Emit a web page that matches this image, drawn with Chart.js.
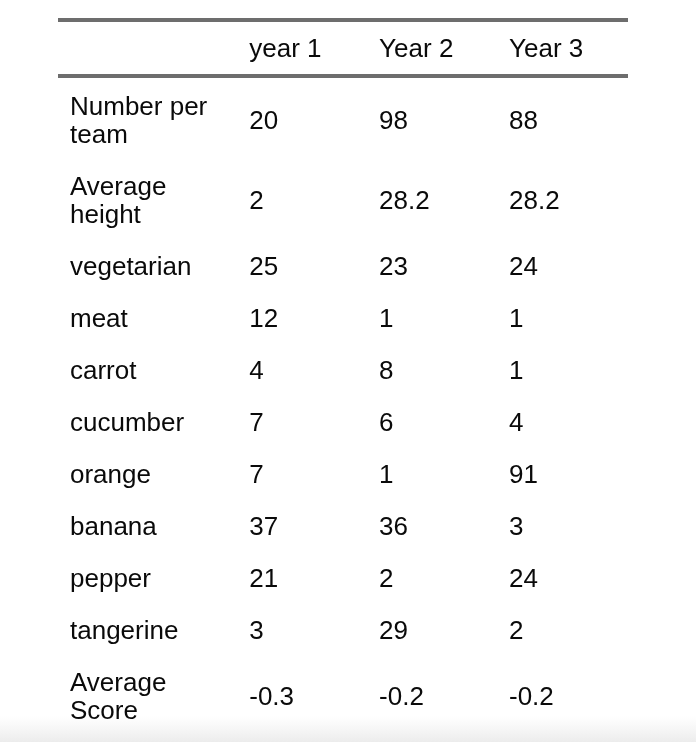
<!DOCTYPE html>
<html>
<head>
<meta charset="utf-8">
<script src="https://cdn.jsdelivr.net/npm/chart.js@4.4.1/dist/chart.umd.min.js"></script>
<style>
  html, body { margin: 0; padding: 0; background: #ffffff; }
  #wrap { width: 696px; height: 742px; position: relative; }
</style>
</head>
<body>
<div id="wrap"><canvas id="c" width="696" height="742"></canvas></div>
<script>
// ---- data ----
const columns = ['year 1', 'Year 2', 'Year 3'];
const rowLabels = [
  ['Number per', 'team'],
  ['Average', 'height'],
  'vegetarian',
  'meat',
  'carrot',
  'cucumber',
  'orange',
  'banana',
  'pepper',
  'tangerine',
  ['Average', 'Score']
];
const year1 = [20, 2, 25, 12, 4, 7, 7, 37, 21, 3, -0.3];
const year2 = [98, 28.2, 23, 1, 8, 6, 1, 36, 2, 29, -0.2];
const year3 = [88, 28.2, 24, 1, 1, 4, 91, 3, 24, 2, -0.2];

// ---- layout helpers (row height grows with number of text lines) ----
const EXTRA_LINE = 28 / 52;
const rowSize = rowLabels.map(l => 1 + (Array.isArray(l) ? l.length - 1 : 0) * EXTRA_LINE);
const rowCenter = [];
let acc = 0;
rowSize.forEach(s => { rowCenter.push(acc + s / 2); acc += s; });
const totalRows = acc;

const series = [year1, year2, year3];
const LABEL_X = -0.38;

const FONT = '26px "Liberation Sans", Arial, Helvetica, sans-serif';
const TEXT = '#0a0a0a';
const RULE = '#6d6d6d';
const LINE_H = 28;

function drawLines(ctx, text, x, y) {
  const lines = Array.isArray(text) ? text : [text];
  const n = lines.length;
  lines.forEach((t, i) => {
    ctx.fillText(t, x, y + (i - (n - 1) / 2) * LINE_H);
  });
}

const tablePlugin = {
  id: 'tablePlugin',
  beforeDraw(chart) {
    const ctx = chart.ctx;
    ctx.save();
    ctx.fillStyle = '#ffffff';
    ctx.fillRect(0, 0, chart.width, chart.height);
    // faint bottom shading
    const g = ctx.createLinearGradient(0, chart.height - 26, 0, chart.height);
    g.addColorStop(0, 'rgba(238,238,238,0)');
    g.addColorStop(1, 'rgba(236,236,236,1)');
    ctx.fillStyle = g;
    ctx.fillRect(0, chart.height - 26, chart.width, 26);
    ctx.restore();
  },
  afterDatasetsDraw(chart) {
    const ctx = chart.ctx;
    const xs = chart.scales.x, ys = chart.scales.y;
    const area = chart.chartArea;
    ctx.save();
    // rules
    const ruleL = xs.getPixelForValue(LABEL_X) - 12;
    const ruleR = xs.getPixelForValue(columns.length) + 119;
    ctx.fillStyle = RULE;
    ctx.fillRect(ruleL, area.top - 64, ruleR - ruleL, 4);
    ctx.fillRect(ruleL, area.top - 8, ruleR - ruleL, 4);

    ctx.font = FONT;
    ctx.fillStyle = TEXT;
    ctx.textAlign = 'left';
    ctx.textBaseline = 'middle';
    // header
    columns.forEach((c, i) => {
      ctx.fillText(c, xs.getPixelForValue(i + 1), area.top - 32);
    });
    // row labels
    rowLabels.forEach((l, r) => {
      drawLines(ctx, l, xs.getPixelForValue(LABEL_X), ys.getPixelForValue(rowCenter[r]));
    });
    // cells from dataset points
    chart.data.datasets.forEach((ds, di) => {
      const meta = chart.getDatasetMeta(di);
      meta.data.forEach((pt, r) => {
        ctx.fillText(String(ds.values[r]), pt.x, pt.y);
      });
    });
    ctx.restore();
  }
};

new Chart(document.getElementById('c'), {
  type: 'scatter',
  data: {
    datasets: series.map((vals, ci) => ({
      label: columns[ci],
      values: vals,
      data: vals.map((v, r) => ({ x: ci + 1, y: rowCenter[r] })),
      pointRadius: 0,
      pointHoverRadius: 0
    }))
  },
  options: {
    responsive: false,
    animation: false,
    devicePixelRatio: 1,
    layout: { padding: { left: 70, right: 187, top: 82, bottom: 4 } },
    plugins: { legend: { display: false }, tooltip: { enabled: false } },
    events: [],
    scales: {
      x: { type: 'linear', min: LABEL_X, max: columns.length, display: false },
      y: { type: 'linear', min: 0, max: totalRows, reverse: true, display: false }
    }
  },
  plugins: [tablePlugin]
});
</script>
</body>
</html>
